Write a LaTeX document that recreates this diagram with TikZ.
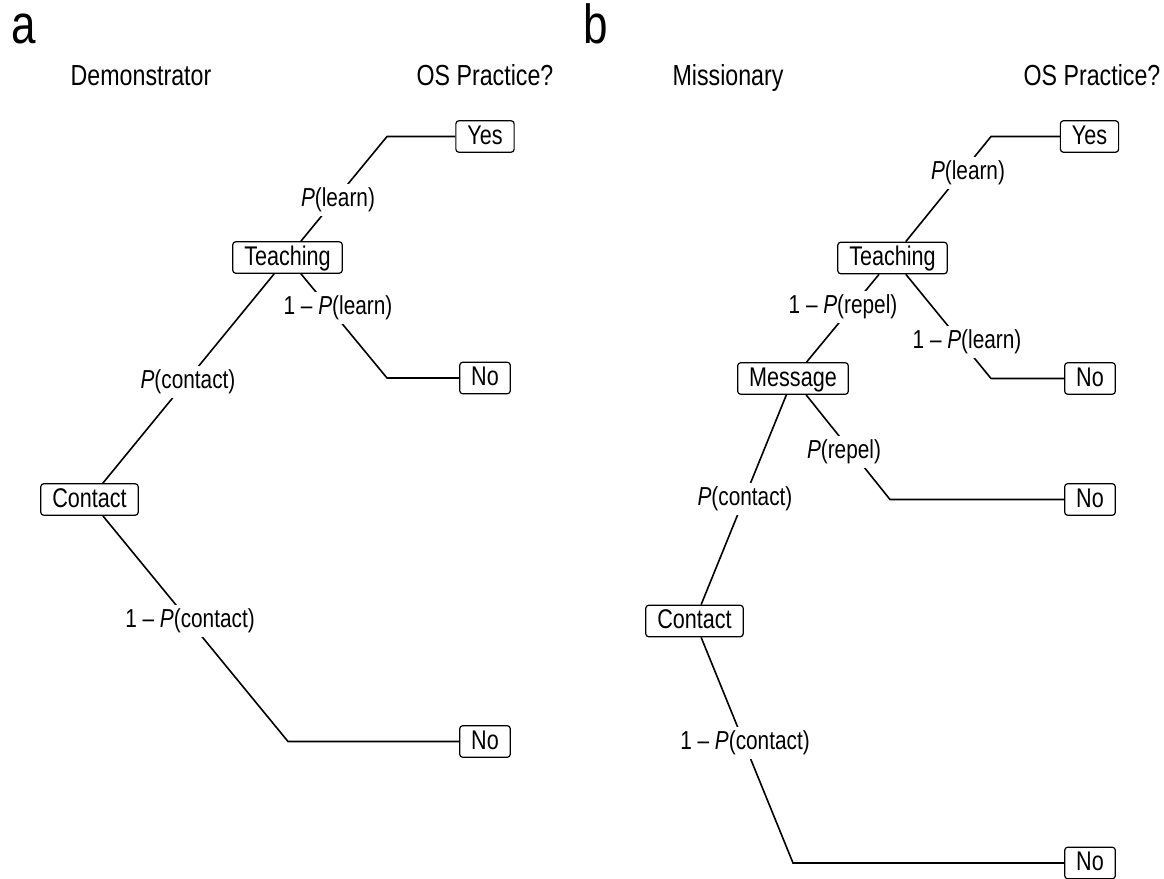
\documentclass[tikz,border=0pt]{standalone}
\usepackage{fontspec}
\setmainfont[FakeStretch=0.8]{Liberation Sans}
\begin{document}
\begin{tikzpicture}[x=1pt,y=-1pt,
  box/.style={draw, rounded corners=3pt, line width=1.2pt, inner xsep=11.5pt, inner ysep=4pt,
    text height=19.5pt, text depth=4pt, font=\fontsize{27}{32}\selectfont},
  lbl/.style={fill=white, inner xsep=2pt, inner ysep=4pt, font=\fontsize{26}{30}\selectfont},
  head/.style={font=\fontsize{29}{34}\selectfont, anchor=base, inner sep=0pt},
  panel/.style={font=\fontsize{55}{60}\selectfont, anchor=base west, inner sep=0pt},
  conn/.style={line width=1.6pt}]
\useasboundingbox (0,0) rectangle (1164,878);

% ---------- panel a ----------
\node[panel] (la) at (11,43) {a};
\node[head] (hdemo) at (141,85) {Demonstrator};
\node[head] (hosa) at (485,85) {OS Practice?};

\node[box] (yesA) at (485,136.5) {Yes};
\node[box] (teachA) at (287.5,257.5) {Teaching};
\node[box] (noA1) at (485,378) {No};
\node[box] (contA) at (89.5,499.5) {Contact};
\node[box] (noA2) at (485,741.5) {No};

\coordinate (cA1) at (387,136.5);
\coordinate (cA2) at (387,378);
\coordinate (cA3) at (288,741.5);

\draw[conn] (teachA) -- (cA1) -- (yesA);
\draw[conn] (teachA) -- (cA2) -- (noA1);
\draw[conn] (contA) -- (teachA);
\draw[conn] (contA) -- (cA3) -- (noA2);

\node[lbl] (lA1) at (338,200) {\textit{P}(learn)};
\node[lbl] (lA2) at (338,308) {1 – \textit{P}(learn)};
\node[lbl] (lA3) at (188,382) {\textit{P}(contact)};
\node[lbl] (lA4) at (190,621) {1 – \textit{P}(contact)};

% ---------- panel b ----------
\node[panel] (lb) at (583,43) {b};
\node[head] (hmiss) at (728,85) {Missionary};
\node[head] (hosb) at (1092,85) {OS Practice?};

\node[box] (yesB) at (1089.5,136.5) {Yes};
\node[box] (teachB) at (892.5,258) {Teaching};
\node[box] (noB1) at (1090,378.5) {No};
\node[box] (msgB) at (793,378.5) {Message};
\node[box] (noB2) at (1090,499.5) {No};
\node[box] (contB) at (694.5,621) {Contact};
\node[box] (noB3) at (1090,863) {No};

\coordinate (cB1) at (991,136.5);
\coordinate (cB2) at (991,378.5);
\coordinate (cB3) at (890,499.5);
\coordinate (cB4) at (793,863);

\draw[conn] (teachB) -- (cB1) -- (yesB);
\draw[conn] (teachB) -- (cB2) -- (noB1);
\draw[conn] (msgB) -- (teachB);
\draw[conn] (msgB) -- (cB3) -- (noB2);
\draw[conn] (contB) -- (msgB);
\draw[conn] (contB) -- (cB4) -- (noB3);

\node[lbl] (lB1) at (968,173) {\textit{P}(learn)};
\node[lbl] (lB2) at (843,307) {1 – \textit{P}(repel)};
\node[lbl] (lB3) at (967,342) {1 – \textit{P}(learn)};
\node[lbl] (lB4) at (844,452) {\textit{P}(repel)};
\node[lbl] (lB5) at (745,499) {\textit{P}(contact)};
\node[lbl] (lB6) at (745,743) {1 – \textit{P}(contact)};
\end{tikzpicture}
\end{document}
